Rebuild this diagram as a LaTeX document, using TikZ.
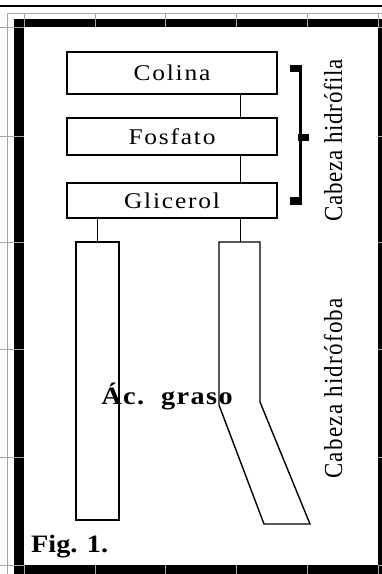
\documentclass[tikz,border=0pt]{standalone}
\usepackage{graphicx}
\usepackage{fontspec}
\setmainfont{Liberation Serif}
\newfontfamily\boxfont[LetterSpace=7]{Liberation Serif}
\newfontfamily\labfont[LetterSpace=3]{Liberation Serif}
\newfontfamily\labfontb[LetterSpace=5.5]{Liberation Serif}
\newfontfamily\boldsp[LetterSpace=5]{Liberation Serif}
\newcommand{\hstretch}[1]{\scalebox{1.13}[1]{#1}}
\newcommand{\vstretch}[1]{\scalebox{1}[1.13]{#1}}
\begin{document}
\begin{tikzpicture}[x=1pt,y=-1pt,
  partbox/.style={draw, line width=1.4pt, rectangle, minimum width=210pt, inner sep=0pt,
    font=\boxfont\fontsize{22.5}{26}\selectfont},
  link/.style={line width=1.4pt},
  grid/.style={draw=gray!70, line width=0.7pt},
  band/.style={fill=black},
  tab/.style={fill=black},
  sidelabel/.style={rotate=90, inner sep=0pt, font=\labfont\fontsize{23}{26}\selectfont}]
\useasboundingbox (0,0) rectangle (382,574);
\fill[white] (0,0) rectangle (382,574);
% frame
\draw[line width=1.2pt] (0,6) -- (382,6);
\draw[grid] (7,574) -- (7,13) -- (382,13);
\fill[band] (14,19) rectangle (382,27);
\fill[band] (14,19) rectangle (24,574);
\fill[band] (14,565) rectangle (382,574);
\fill[band] (378,19) rectangle (382,574);
\foreach \gx in {24,95,165,236,307,378} \draw[grid] (\gx,13) -- (\gx,27) (\gx,565) -- (\gx,574);
\foreach \gy in {27,136,242,349,457,565} \draw[grid] (0,\gy) -- (24,\gy) (378,\gy) -- (382,\gy);
\fill[white] (24,27) rectangle (378,565);
% boxes
\node[partbox, minimum height=42pt] (colina) at (172,73) {\hstretch{Colina}};
\node[partbox, minimum height=37pt] (fosfato) at (172,136.5) {\hstretch{Fosfato}};
\node[partbox, minimum height=35pt] (glicerol) at (172,200.5) {\hstretch{Glicerol}};
\draw[link] ([xshift=68.5pt]colina.south) -- ([xshift=68.5pt]fosfato.north);
\draw[link] ([xshift=68.5pt]fosfato.south) -- ([xshift=68.5pt]glicerol.north);
% tails
\node[draw, line width=1.4pt, rectangle, minimum width=43pt, minimum height=278pt, inner sep=0pt] (tailL) at (97.5,381) {};
\draw[link] ([xshift=-74.5pt]glicerol.south) -- (tailL.north);
\coordinate (tailR) at (240.5,242);
\draw[link, line join=miter] (219,242) -- (260,242) -- (260,402) -- (310,524) -- (264,524) -- (219,405) -- cycle;
\draw[link] ([xshift=68.5pt]glicerol.south) -- (tailR);
\node[font=\boldsp\bfseries\fontsize{25}{28}\selectfont, anchor=base, inner sep=0pt] (acido) at (167,404) {\hstretch{Ác.\ \ graso}};
% bracket
\draw[line width=3pt] (300,68) -- (300,203);
\fill[tab] (290,65) rectangle (302,72);
\fill[tab] (298,134) rectangle (309,141);
\fill[tab] (290,197) rectangle (302,205);
\node[sidelabel] (hidrofila) at (333,140) {\vstretch{Cabeza hidrófila}};
\node[sidelabel, font=\labfontb\fontsize{23}{26}\selectfont] (hidrofoba) at (333,388.5) {\vstretch{Cabeza hidrófoba}};
\node[font=\bfseries\fontsize{25}{30}\selectfont, anchor=base west, inner sep=0pt] (fig) at (31,552) {\hstretch{Fig. 1.}};
\end{tikzpicture}
\end{document}
